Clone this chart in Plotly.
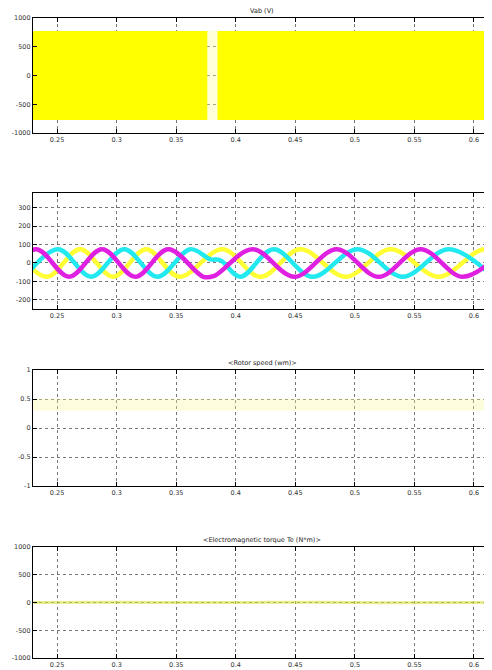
import plotly.graph_objects as go

# ---------------- data ----------------
x_ticks = [0.25, 0.3, 0.35, 0.4, 0.45, 0.5, 0.55, 0.6]
x_tick_labels = ["0.25", "0.3", "0.35", "0.4", "0.45", "0.5", "0.55", "0.6"]
x_range = [0.2298, 0.6143]

# Panel 1: Vab PWM envelope (dense switching -> solid band)
vab_seg_start = [0.2298, 0.3846]
vab_seg_end = [0.3762, 0.6143]
vab_level = 775
vab_gap_start = 0.3762
vab_gap_end = 0.3846

# Panel 2: three-phase currents, extrema
mag_t = [0.2046, 0.2323, 0.2601, 0.2878, 0.3156, 0.3434, 0.3728, 0.3820,
         0.4140, 0.4493, 0.4847, 0.5200, 0.5553, 0.5906, 0.6259]
mag_v = [-75, 75, -75, 75, -75, 75, -75, -70, 75, -75, 75, -75, 75, -75, 75]
cyan_t = [0.2231, 0.2508, 0.2786, 0.3064, 0.3341, 0.3619, 0.3787, 0.3871,
          0.4039, 0.4317, 0.4645, 0.5023, 0.5402, 0.5789, 0.6159]
cyan_v = [-75, 75, -75, 75, -75, 75, 20, 15, -75, 75, -75, 75, -75, 75, -75]
yel_t = [0.2138, 0.2416, 0.2693, 0.2971, 0.3249, 0.3526, 0.3888, 0.4207,
         0.4544, 0.4922, 0.5301, 0.5704, 0.6100, 0.6478]
yel_v = [75, -75, 75, -75, 75, -75, 75, -75, 75, -75, 75, -75, 75, -75]

# Panel 3: rotor speed
speed_t = [0.2298, 0.6143]
speed_v = [0.4, 0.4]

# Panel 4: electromagnetic torque
torque_t = [0.2298, 0.30, 0.38, 0.45, 0.52, 0.6143]
torque_v = [0, 3, -2, 4, -3, 0]

titles = ["Vab (V)", "", "<Rotor speed (wm)>", "<Electromagnetic torque Te (N*m)>"]
y_ticks = [[-1000, -500, 0, 500, 1000],
           [-200, -100, 0, 100, 200, 300],
           [-1, -0.5, 0, 0.5, 1],
           [-1000, -500, 0, 500, 1000]]
y_tick_labels = [["-1000", "-500", "0", "500", "1000"],
                 ["-200", "-100", "0", "100", "200", "300"],
                 ["-1", "-0.5", "0", "0.5", "1"],
                 ["-1000", "-500", "0", "500", "1000"]]
y_ranges = [[-1000, 1000], [-250, 380], [-1, 1], [-1000, 1000]]

# ---------------- layout geometry ----------------
# page body has an 8px margin, so the figure is shrunk/offset to fit the window
OFF = 8
W, H = 492 - OFF, 670 - OFF
panel_px = [(18, 133), (193, 309), (370, 486), (547, 658)]  # top, bottom in window px
domains = [[1 - (b - OFF) / H, 1 - (t - OFF) / H] for (t, b) in panel_px]

fig = go.Figure()

# Panel 1 traces
for s, e in zip(vab_seg_start, vab_seg_end):
    fig.add_trace(go.Scatter(x=[s, e, e, s, s],
                             y=[-vab_level, -vab_level, vab_level, vab_level, -vab_level],
                             fill="toself", fillcolor="#FFFF00", mode="lines",
                             line=dict(color="#FFFF00", width=0),
                             xaxis="x", yaxis="y", showlegend=False, hoverinfo="skip"))
fig.add_trace(go.Scatter(x=[vab_gap_start, vab_gap_end, vab_gap_end, vab_gap_start, vab_gap_start],
                         y=[-vab_level, -vab_level, vab_level, vab_level, -vab_level],
                         fill="toself", fillcolor="rgba(255,255,150,0.35)", mode="lines",
                         line=dict(width=0), xaxis="x", yaxis="y",
                         showlegend=False, hoverinfo="skip"))

# Panel 2 traces
for t, v, c in [(yel_t, yel_v, "#FFFF33"), (cyan_t, cyan_v, "#22E8F0"), (mag_t, mag_v, "#E020E0")]:
    fig.add_trace(go.Scatter(x=t, y=v, mode="lines",
                             line=dict(color=c, width=4.5, shape="spline", smoothing=1.0),
                             xaxis="x2", yaxis="y2", showlegend=False, hoverinfo="skip"))

# Panel 3
fig.add_trace(go.Scatter(x=speed_t, y=speed_v, mode="lines",
                         line=dict(color="rgba(250,250,160,0.35)", width=12),
                         xaxis="x3", yaxis="y3", showlegend=False, hoverinfo="skip"))

# Panel 4
fig.add_trace(go.Scatter(x=torque_t, y=torque_v, mode="lines",
                         line=dict(color="rgba(215,225,60,0.6)", width=3, shape="spline"),
                         xaxis="x4", yaxis="y4", showlegend=False, hoverinfo="skip"))

tick_font = dict(family="DejaVu Sans", size=6.5, color="#333333")
layout = dict(width=W, height=H, paper_bgcolor="white", plot_bgcolor="white",
              margin=dict(l=33 - OFF, r=1, t=0, b=0, pad=0), showlegend=False)

annotations = []
for i in range(4):
    sx = "" if i == 0 else str(i + 1)
    common = dict(ticks="inside", ticklen=4, tickcolor="black",
                  showline=True, linecolor="black", linewidth=1.2,
                  mirror="ticks", showgrid=True, gridcolor="#777777",
                  griddash="dot", gridwidth=1, zeroline=False,
                  tickfont=tick_font, automargin=False)
    layout["xaxis" + sx] = dict(domain=[0, 1], range=x_range, anchor="y" + sx,
                                tickvals=x_ticks, ticktext=x_tick_labels, **common)
    layout["yaxis" + sx] = dict(domain=domains[i], range=y_ranges[i], anchor="x" + sx,
                                tickvals=y_ticks[i], ticktext=y_tick_labels[i], **common)
    if titles[i]:
        annotations.append(dict(text=titles[i], x=0.5, y=domains[i][1], xref="paper",
                                yref="paper", yanchor="bottom", showarrow=False,
                                yshift=1, font=dict(family="DejaVu Sans", size=6.5, color="#222222")))
layout["annotations"] = annotations
fig.update_layout(**layout)

fig.write_html("out.html")
